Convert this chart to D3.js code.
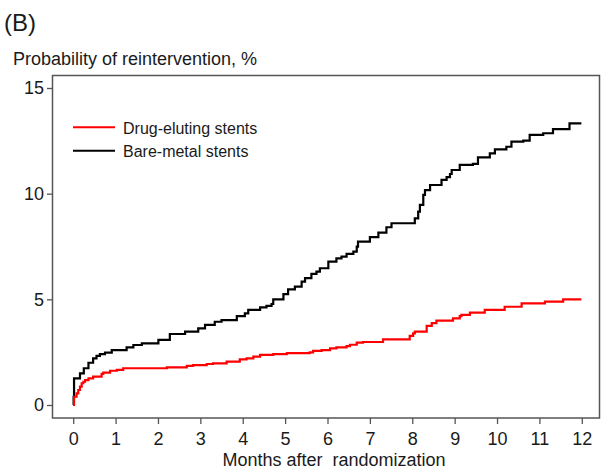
<!DOCTYPE html>
<html>
<head>
<meta charset="utf-8">
<script src="https://cdn.jsdelivr.net/npm/d3@7"></script>
<style>
  html, body { margin: 0; padding: 0; background: #fff; }
  svg { display: block; font-family: "Liberation Sans", Arial, sans-serif; }
</style>
</head>
<body>
<svg id="chart" width="601" height="469"></svg>
<script>
// Cumulative probability of reintervention (Kaplan–Meier steps), months vs %
const desMonths = [0, 0.02, 0.08, 0.12, 0.16, 0.20, 0.24, 0.28, 0.36, 0.47, 0.67, 0.71, 0.87, 1.03, 1.18, 2.21, 2.68, 2.83, 3.15, 3.30, 3.62, 3.93, 4.09, 4.25, 4.41, 4.72, 5.04, 5.58, 5.66, 5.86, 6.06, 6.21, 6.45, 6.53, 6.69, 6.84, 7.31, 7.94, 8.02, 8.06, 8.34, 8.46, 8.57, 8.96, 9.12, 9.16, 9.36, 9.71, 10.18, 10.58, 11.13, 11.56, 11.99];
const desPercent = [0, 0.39, 0.55, 0.71, 0.87, 1.03, 1.10, 1.18, 1.26, 1.34, 1.47, 1.53, 1.62, 1.66, 1.74, 1.78, 1.85, 1.89, 1.94, 1.97, 2.05, 2.16, 2.21, 2.29, 2.37, 2.41, 2.45, 2.49, 2.56, 2.60, 2.68, 2.73, 2.79, 2.85, 2.95, 2.98, 3.11, 3.27, 3.39, 3.47, 3.74, 3.87, 3.99, 4.10, 4.21, 4.26, 4.37, 4.50, 4.65, 4.81, 4.89, 5.00, 5.00];

const bmsMonths = [0, 0.01, 0.02, 0.16, 0.25, 0.36, 0.47, 0.55, 0.63, 0.75, 0.91, 1.26, 1.42, 1.62, 2.01, 2.28, 2.64, 2.95, 3.11, 3.34, 3.50, 3.86, 4.05, 4.13, 4.41, 4.56, 4.68, 4.72, 4.96, 5.07, 5.23, 5.39, 5.47, 5.62, 5.74, 5.82, 6.02, 6.21, 6.33, 6.45, 6.61, 6.69, 6.72, 7.00, 7.20, 7.39, 7.51, 8.02, 8.06, 8.14, 8.18, 8.26, 8.30, 8.42, 8.69, 8.81, 8.89, 8.93, 9.12, 9.43, 9.55, 9.83, 9.95, 10.22, 10.34, 10.62, 10.77, 11.09, 11.32, 11.71, 11.99];
const bmsPercent = [0, 0.39, 1.26, 1.50, 1.74, 2.00, 2.21, 2.32, 2.41, 2.48, 2.60, 2.73, 2.84, 2.92, 3.08, 3.36, 3.47, 3.63, 3.79, 3.94, 4.02, 4.21, 4.34, 4.50, 4.62, 4.69, 4.78, 5.00, 5.25, 5.47, 5.60, 5.84, 6.00, 6.20, 6.31, 6.47, 6.78, 6.94, 7.02, 7.15, 7.26, 7.49, 7.73, 7.94, 8.16, 8.41, 8.60, 8.60, 8.83, 9.15, 9.47, 9.94, 10.17, 10.41, 10.65, 10.78, 10.93, 11.12, 11.36, 11.41, 11.72, 11.91, 12.10, 12.22, 12.46, 12.51, 12.78, 12.86, 13.05, 13.33, 13.33];

const xTickValues = [0, 1, 2, 3, 4, 5, 6, 7, 8, 9, 10, 11, 12];
const yTickValues = [0, 5, 10, 15];

const seriesNames = ["Drug-eluting stents", "Bare-metal stents"];
const seriesColors = ["#ff0000", "#000000"];

const svg = d3.select("#chart");

const frame = { left: 52.5, right: 599.5, top: 75.5, bottom: 418 };

const x = d3.scaleLinear().domain([0, 12]).range([73.2, 581.8]);
const y = d3.scaleLinear().domain([0, 15]).range([405, 88]);

const axisColor = "#555";
const textColor = "#1a1a1a";

// Panel label and y-axis title
svg.append("text")
  .attr("x", 4).attr("y", 31)
  .attr("font-size", 24).attr("fill", textColor)
  .text("(B)");

svg.append("text")
  .attr("x", 13).attr("y", 65)
  .attr("font-size", 18).attr("fill", textColor)
  .text("Probability of reintervention, %");

// Plot frame
svg.append("rect")
  .attr("x", frame.left).attr("y", frame.top)
  .attr("width", frame.right - frame.left)
  .attr("height", frame.bottom - frame.top)
  .attr("fill", "none")
  .attr("stroke", axisColor)
  .attr("stroke-width", 1.5);

// Y axis
const yAxis = d3.axisLeft(y).tickValues(yTickValues).tickSize(5.5).tickPadding(3);
const gy = svg.append("g")
  .attr("transform", `translate(${frame.left},0)`)
  .call(yAxis);
gy.select(".domain").remove();
gy.selectAll(".tick line").attr("stroke", axisColor).attr("stroke-width", 1.3);
gy.selectAll(".tick text")
  .attr("font-size", 18).attr("fill", textColor)
  .attr("font-family", "Liberation Sans, Arial, sans-serif");

// X axis
const xAxis = d3.axisBottom(x).tickValues(xTickValues).tickSize(6).tickPadding(8);
const gx = svg.append("g")
  .attr("transform", `translate(0,${frame.bottom})`)
  .call(xAxis);
gx.select(".domain").remove();
gx.selectAll(".tick line").attr("stroke", axisColor).attr("stroke-width", 1.3);
gx.selectAll(".tick text")
  .attr("font-size", 18).attr("fill", textColor)
  .attr("font-family", "Liberation Sans, Arial, sans-serif");

svg.append("text")
  .attr("x", 334).attr("y", 466)
  .attr("text-anchor", "middle")
  .attr("font-size", 18).attr("fill", textColor)
  .style("white-space", "pre")
  .text("Months after  randomization");

// Step curves
const step = d3.line()
  .x(d => x(d[0]))
  .y(d => y(d[1]))
  .curve(d3.curveStepAfter);

const bmsData = bmsMonths.map((m, i) => [m, bmsPercent[i]]);
const desData = desMonths.map((m, i) => [m, desPercent[i]]);

svg.append("path")
  .datum(bmsData)
  .attr("d", step)
  .attr("fill", "none")
  .attr("stroke", seriesColors[1])
  .attr("stroke-width", 2.2);

svg.append("path")
  .datum(desData)
  .attr("d", step)
  .attr("fill", "none")
  .attr("stroke", seriesColors[0])
  .attr("stroke-width", 2.2);

// Legend
const legendY = [127.3, 150.7];
seriesNames.forEach((name, i) => {
  svg.append("line")
    .attr("x1", 73).attr("x2", 115)
    .attr("y1", legendY[i]).attr("y2", legendY[i])
    .attr("stroke", seriesColors[i])
    .attr("stroke-width", 2);
  svg.append("text")
    .attr("x", 123).attr("y", legendY[i] + 6.5)
    .attr("font-size", 16).attr("fill", textColor)
    .text(name);
});
</script>
</body>
</html>
